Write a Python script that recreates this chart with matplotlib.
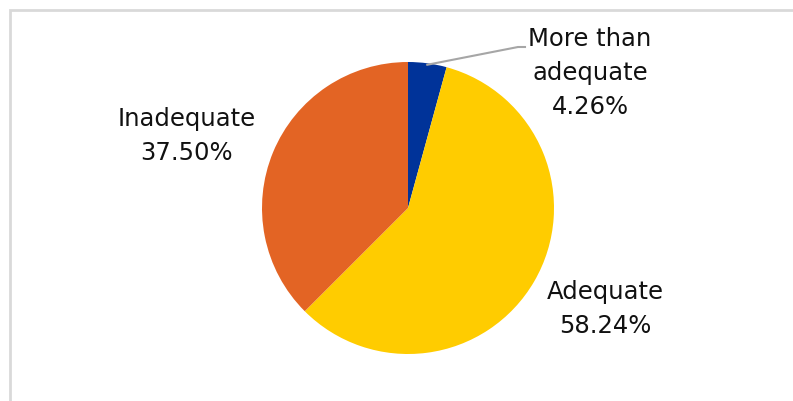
import numpy as np
import matplotlib.pyplot as plt
from matplotlib.patches import Rectangle

labels = ['More than\nadequate', 'Adequate', 'Inadequate']
shares = [4.26, 58.24, 37.50]
colors = ['#003399', '#FFCC00', '#E36424']

W, H = 793, 401
fig = plt.figure(figsize=(W / 100, H / 100), dpi=100)
ax = fig.add_axes([0, 0, 1, 1])

# chart area border (runs off the right and bottom)
ax.add_patch(Rectangle((9.5, -20), W + 20, H - 10 + 20, fill=False,
                       edgecolor='#d9d9d9', linewidth=2))

cx, cy, r = 408, 193, 146
wedges, _ = ax.pie(shares, colors=colors, startangle=90, counterclock=False,
                   center=(cx, cy), radius=r, frame=True,
                   wedgeprops=dict(linewidth=0))
ax.set_xlim(0, W)
ax.set_ylim(0, H)
ax.set_aspect('equal')
ax.axis('off')

font = dict(family='DejaVu Sans', fontsize=17.5, color='#111111',
            ha='center', va='center', linespacing=1.5)

# label centres in data units
label_xy = [(590, 328), (605, 92), (187, 265)]
for lab, val, (lx, ly) in zip(labels, shares, label_xy):
    ax.text(lx, ly, f'{lab}\n{val:.2f}%', **font)

# leader line for the small slice
w = wedges[0]
mid = np.deg2rad((w.theta1 + w.theta2) / 2)
px, py = cx + r * np.cos(mid) * 0.99, cy + r * np.sin(mid) * 0.99
ax.plot([px, 518, 525], [py, H - 47, H - 47], color='#a6a6a6', linewidth=1.5)

fig.savefig('out.png', dpi=100)
